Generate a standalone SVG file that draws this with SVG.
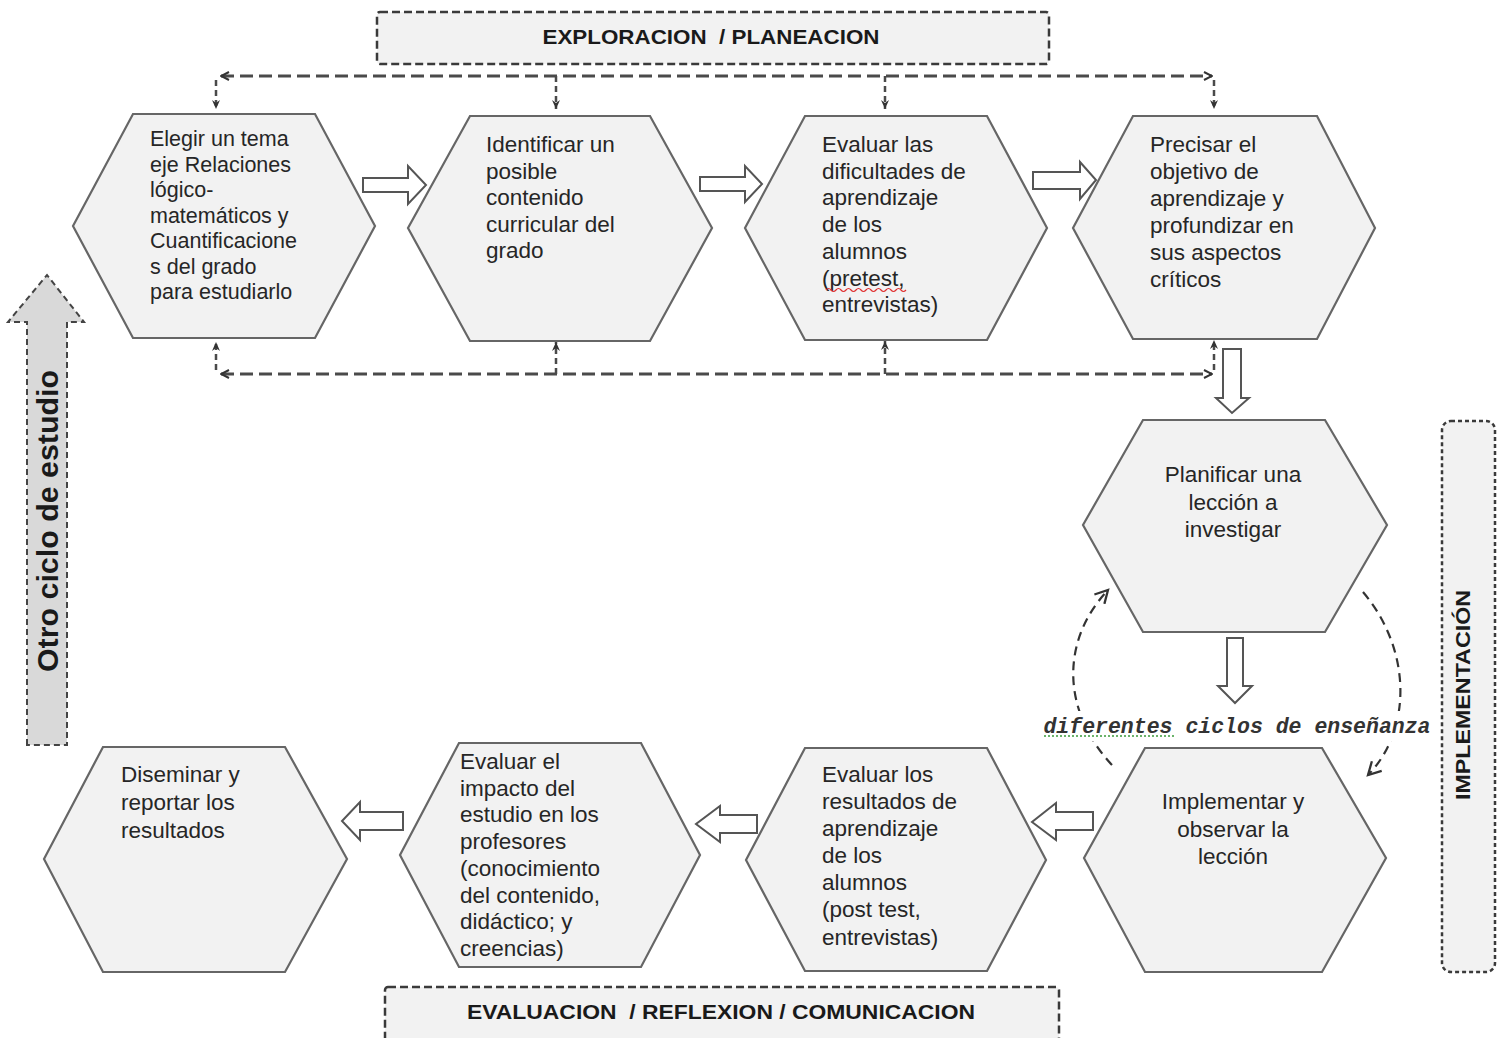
<svg xmlns="http://www.w3.org/2000/svg" width="1502" height="1038" viewBox="0 0 1502 1038">
<style>
.hex{fill:#f2f2f2;stroke:#666;stroke-width:2.2}
.t{font-family:"Liberation Sans",Arial,sans-serif;font-size:22.5px;fill:#262626}
.t1{font-size:21.5px}
.ban{fill:#f2f2f2;stroke:#3a3a3a;stroke-width:2.5;stroke-dasharray:8 4}
.bt{font-family:"Liberation Sans",Arial,sans-serif;font-weight:bold;font-size:21px;fill:#1a1a1a;white-space:pre}
.blk{fill:#fff;stroke:#555;stroke-width:2}
.dl{fill:none;stroke:#4a4a4a;stroke-width:3;stroke-dasharray:13 6}
.dv{fill:none;stroke:#4a4a4a;stroke-width:2.5;stroke-dasharray:6 4}
.cv{fill:none;stroke:#333;stroke-width:2.2;stroke-dasharray:9 6}
</style>
<defs>
<marker id="ah" viewBox="0 0 10 10" refX="9" refY="5" markerWidth="10" markerHeight="10" markerUnits="userSpaceOnUse" orient="auto-start-reverse">
<path d="M1,1 L9,5 L1,9" fill="none" stroke="#333" stroke-width="2"/>
</marker>
<marker id="af" viewBox="0 0 10 10" refX="9" refY="5" markerWidth="10" markerHeight="10" markerUnits="userSpaceOnUse" orient="auto">
<path d="M0,1 L9,5 L0,9 L3,5 Z" fill="#333"/>
</marker>
<marker id="ao" viewBox="0 0 14 14" refX="12" refY="7" markerWidth="16" markerHeight="16" markerUnits="userSpaceOnUse" orient="auto">
<path d="M1,1 L12,7 L1,13" fill="none" stroke="#333" stroke-width="2"/>
</marker>
</defs>

<g id="banner-exploracion">
<rect class="ban" x="377" y="12" width="672" height="52" rx="3"/>
<text class="bt" x="711" y="44" text-anchor="middle" textLength="337" lengthAdjust="spacingAndGlyphs">EXPLORACION  / PLANEACION</text>
</g>
<g id="banner-evaluacion">
<rect class="ban" x="385" y="987" width="674" height="70" rx="3"/>
<text class="bt" x="721" y="1019" text-anchor="middle" textLength="508" lengthAdjust="spacingAndGlyphs">EVALUACION  / REFLEXION / COMUNICACION</text>
</g>
<g id="banner-implementacion">
<rect x="1442" y="421" width="53" height="551" rx="9" fill="#f2f2f2" stroke="#3a3a3a" stroke-width="2.5" stroke-dasharray="4 3"/>
<text class="bt" transform="translate(1470,695) rotate(-90)" text-anchor="middle" textLength="210" lengthAdjust="spacingAndGlyphs">IMPLEMENTACIÓN</text>
</g>
<g id="otro-ciclo">
<path d="M27,745 L27,322 L8,322 L47,275 L84,322 L67,322 L67,745 Z" fill="#d9d9d9" stroke="#444" stroke-width="2" stroke-dasharray="6 4"/>
<text class="bt" style="font-size:29px" transform="translate(58,521) rotate(-90)" text-anchor="middle" textLength="302" lengthAdjust="spacingAndGlyphs">Otro ciclo de estudio</text>
</g>

<g id="n1">
<polygon class="hex" points="133,114 315,114 375,226 315,338 133,338 73,226"/>
<text class="t t1" x="150"><tspan x="150" y="146">Elegir un tema</tspan><tspan x="150" y="171.5">eje  Relaciones</tspan><tspan x="150" y="197">lógico-</tspan><tspan x="150" y="222.5">matemáticos y</tspan><tspan x="150" y="248">Cuantificacione</tspan><tspan x="150" y="273.5">s del grado</tspan><tspan x="150" y="299">para estudiarlo</tspan></text>
</g>
<g id="n2">
<polygon class="hex" points="470,116 650,116 712,228 650,341 470,341 408,228"/>
<text class="t" x="486"><tspan x="486" y="152">Identificar  un</tspan><tspan x="486" y="178.5">posible</tspan><tspan x="486" y="205">contenido</tspan><tspan x="486" y="231.5">curricular del</tspan><tspan x="486" y="258">grado</tspan></text>
</g>
<g id="n3">
<polygon class="hex" points="805,116 987,116 1047,228 987,340 805,340 745,228"/>
<text class="t" x="822"><tspan x="822" y="152">Evaluar las</tspan><tspan x="822" y="178.7">dificultades de</tspan><tspan x="822" y="205.4">aprendizaje</tspan><tspan x="822" y="232">de los</tspan><tspan x="822" y="258.8">alumnos</tspan><tspan x="822" y="285.5">(pretest,</tspan><tspan x="822" y="312">entrevistas)</tspan></text>
<path d="M826,290 q2.5,-3 5,0 t5,0 t5,0 t5,0 t5,0 t5,0 t5,0 t5,0 t5,0 t5,0 t5,0 t5,0 t5,0 t5,0 t5,0 t5,0" fill="none" stroke="#e03030" stroke-width="1.2"/>
</g>
<g id="n4">
<polygon class="hex" points="1133,116 1317,116 1375,228 1317,339 1133,339 1073,228"/>
<text class="t" x="1150"><tspan x="1150" y="152">Precisar el</tspan><tspan x="1150" y="179">objetivo de</tspan><tspan x="1150" y="206">aprendizaje y</tspan><tspan x="1150" y="233">profundizar en</tspan><tspan x="1150" y="260">sus aspectos</tspan><tspan x="1150" y="287">críticos</tspan></text>
</g>
<g id="n5">
<polygon class="hex" points="1143,420 1325,420 1387,525 1325,632 1143,632 1083,525"/>
<text class="t" text-anchor="middle"><tspan x="1233" y="482">Planificar una</tspan><tspan x="1233" y="509.5">lección a</tspan><tspan x="1233" y="537">investigar</tspan></text>
</g>
<g id="n6">
<polygon class="hex" points="1145,748 1322,748 1386,858 1322,972 1145,972 1084,858"/>
<text class="t" text-anchor="middle"><tspan x="1233" y="809">Implementar y</tspan><tspan x="1233" y="836.5">observar la</tspan><tspan x="1233" y="864">lección</tspan></text>
</g>
<g id="n7">
<polygon class="hex" points="805,748 987,748 1046,860 987,971 805,971 746,860"/>
<text class="t" x="822"><tspan x="822" y="782">Evaluar los</tspan><tspan x="822" y="809">resultados de</tspan><tspan x="822" y="836">aprendizaje</tspan><tspan x="822" y="863">de los</tspan><tspan x="822" y="890">alumnos</tspan><tspan x="822" y="917">(post test,</tspan><tspan x="822" y="945">entrevistas)</tspan></text>
</g>
<g id="n8">
<polygon class="hex" points="459,743 641,743 700,855 641,967 459,967 400,855"/>
<text class="t" x="460"><tspan x="460" y="769">Evaluar  el</tspan><tspan x="460" y="795.7">impacto del</tspan><tspan x="460" y="822.4">estudio en los</tspan><tspan x="460" y="849">profesores</tspan><tspan x="460" y="875.8">(conocimiento</tspan><tspan x="460" y="902.5">del contenido,</tspan><tspan x="460" y="929">didáctico;  y</tspan><tspan x="460" y="956">creencias)</tspan></text>
</g>
<g id="n9">
<polygon class="hex" points="103,747 285,747 347,859 285,972 103,972 44,859"/>
<text class="t" x="121"><tspan x="121" y="782">Diseminar y</tspan><tspan x="121" y="810">reportar los</tspan><tspan x="121" y="838">resultados</tspan></text>
</g>

<g id="connectors">
<path class="blk" d="M363,178 L408,178 L408,166 L426,185 L408,204 L408,192 L363,192 Z"/>
<path class="blk" d="M700,177 L745,177 L745,166 L762,184 L745,202 L745,191 L700,191 Z"/>
<path class="blk" d="M1033,172 L1080,172 L1080,162 L1096,180 L1080,199 L1080,189 L1033,189 Z"/>
<path class="blk" d="M1223,349 L1241,349 L1241,398 L1249,398 L1232,413 L1216,398 L1223,398 Z"/>
<path class="blk" d="M1227,638 L1243,638 L1243,686 L1252,686 L1235,703 L1218,686 L1227,686 Z"/>
<path class="blk" d="M1093,812 L1056,812 L1056,803 L1032,822 L1056,840 L1056,830 L1093,830 Z"/>
<path class="blk" d="M757,815 L720,815 L720,806 L696,824 L720,842 L720,833 L757,833 Z"/>
<path class="blk" d="M403,812 L360,812 L360,802 L342,821 L360,840 L360,830 L403,830 Z"/>

<line class="dl" x1="221" y1="76" x2="1212" y2="76" marker-start="url(#ah)" marker-end="url(#ah)"/>
<line class="dv" x1="216" y1="80" x2="216" y2="109" marker-end="url(#af)"/>
<line class="dv" x1="556" y1="76" x2="556" y2="109" marker-end="url(#af)"/>
<line class="dv" x1="885" y1="76" x2="885" y2="109" marker-end="url(#af)"/>
<line class="dv" x1="1214" y1="80" x2="1214" y2="109" marker-end="url(#af)"/>

<line class="dl" x1="221" y1="374" x2="1212" y2="374" marker-start="url(#ah)" marker-end="url(#ah)"/>
<line class="dv" x1="216" y1="370" x2="216" y2="342" marker-end="url(#af)"/>
<line class="dv" x1="556" y1="374" x2="556" y2="342" marker-end="url(#af)"/>
<line class="dv" x1="885" y1="374" x2="885" y2="341" marker-end="url(#af)"/>
<line class="dv" x1="1214" y1="370" x2="1214" y2="340" marker-end="url(#af)"/>

<path class="cv" d="M1112,765 C1061,710 1061,640 1108,590" marker-end="url(#ao)"/>
<path class="cv" d="M1363,592 C1412,650 1412,730 1368,775" marker-end="url(#ao)"/>
<rect x="1040" y="711" width="396" height="30" fill="#fff"/>
<text x="1237" y="733" text-anchor="middle" font-family="'Liberation Mono','Courier New',monospace" font-style="italic" font-weight="bold" font-size="21.5" fill="#333">diferentes ciclos de enseñanza</text>
<line x1="1044" y1="736" x2="1174" y2="736" stroke="#3a9a3a" stroke-width="1.3" stroke-dasharray="2 2"/>
</g>
</svg>
